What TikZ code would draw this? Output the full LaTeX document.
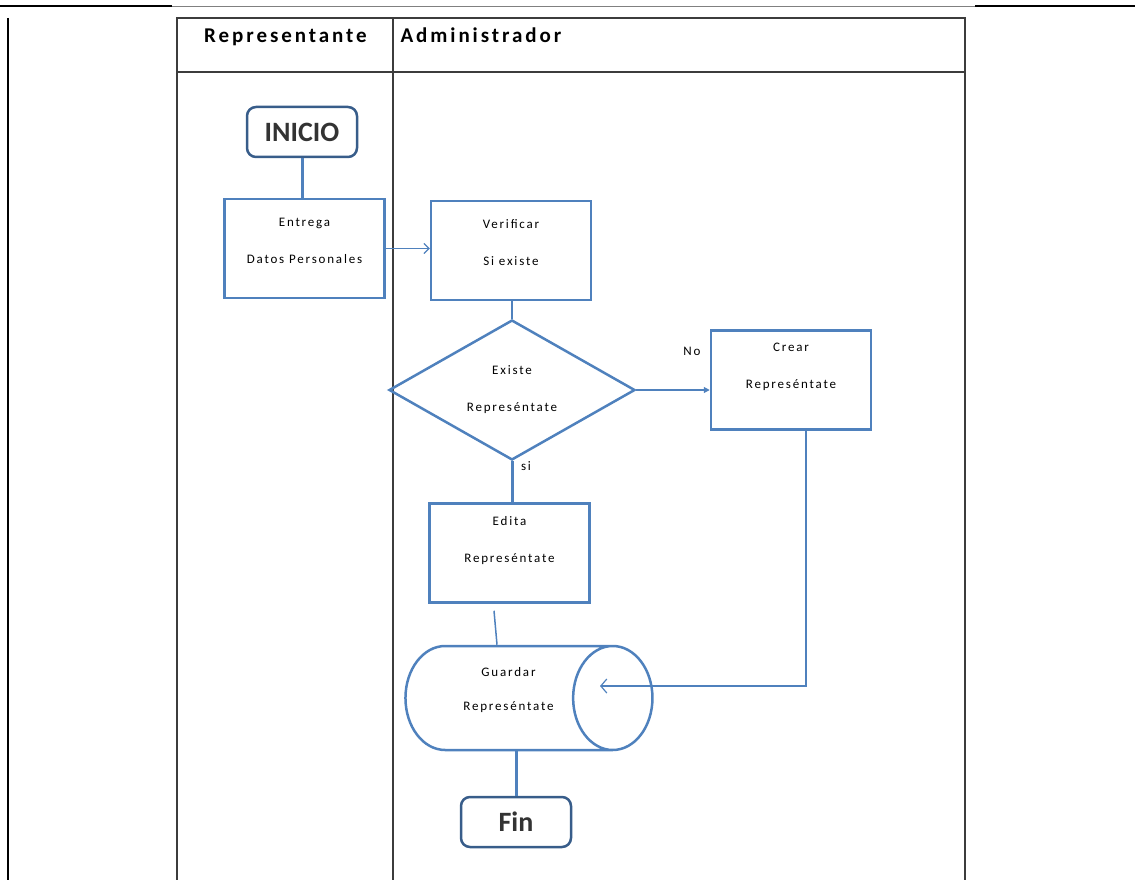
\documentclass[tikz,border=0pt]{standalone}
\usepackage{fontspec}
\setmainfont{Carlito}
\newfontfamily\cajaFont[LetterSpace=14]{Carlito}
\newfontfamily\titFont[LetterSpace=14]{Carlito}
\usetikzlibrary{shapes.geometric,arrows.meta}
\definecolor{azulCaja}{RGB}{79,129,189}
\definecolor{azulTerm}{RGB}{56,93,138}
\definecolor{grisLinea}{RGB}{60,60,60}

\begin{document}
\begin{tikzpicture}[x=1pt,y=-1pt,
  paso/.style={draw=azulCaja,line width=2.5pt,minimum width=160pt,minimum height=99pt,
    align=center,inner sep=2pt,text depth=#1,font=\cajaFont\fontsize{13}{37}\selectfont},
  paso/.default=22pt,
  term/.style={draw=azulTerm,line width=2.5pt,rounded corners=9pt,minimum width=110pt,
    minimum height=50pt,text=black!80,font=\bfseries\fontsize{28}{30}\selectfont},
  etiq/.style={font=\cajaFont\fontsize{13}{16}\selectfont},
  titulo/.style={font=\titFont\bfseries\fontsize{21}{24}\selectfont},
  grueso/.style={draw=azulCaja,line width=3pt},
  fino/.style={draw=azulCaja,line width=1.2pt}]
 \useasboundingbox (0,0) rectangle (1135,880);
 % marco de la pagina
 \draw[line width=2pt] (0,6) -- (172,6);
 \draw[gray,line width=0.8pt] (172,6) -- (975,6);
 \draw[line width=2pt] (975,6) -- (1135,6);
 \draw[line width=2pt] (8,18) -- (8,885);
 % tabla de carriles
 \draw[grisLinea,line width=1.4pt] (177,885) -- (177,18) -- (965,18) -- (965,885);
 \draw[grisLinea,line width=2pt] (177,72) -- (965,72);
 \draw[grisLinea,line width=1.4pt] (393,18) -- (393,885);
 \node[titulo] (repr) at (285.5,37) {Representante};
 \node[titulo,anchor=west] (admin) at (397,35) {Administrador};
 % nodos
 \node[term] (ini) at (302,132) {INICIO};
 \node[paso=16pt] (entrega) at (304.5,248.5) {Entrega\\Datos Personales};
 \node[paso=16pt] (verif) at (511,250.5) {Verificar\\Si existe};
 \node[draw=azulCaja,line width=2.5pt,diamond,minimum width=246pt,minimum height=140pt,
   inner sep=0pt,align=center,font=\cajaFont\fontsize{13}{37}\selectfont] (existe) at (512,390)
   {Existe\\Represéntate};
 \node[paso=28pt] (crear) at (791,380) {Crear\\Represéntate};
 \node[paso=28pt] (edita) at (509.5,553) {Edita\\Represéntate};
 \node[draw=azulCaja,line width=2.5pt,cylinder,aspect=1.3,minimum width=104pt,
   minimum height=247pt,inner sep=0pt,align=center,text depth=18pt,
   font=\cajaFont\fontsize{13}{34}\selectfont] (guardar) at (508.5,698) {Guardar\\Represéntate};
 \node[term] (fin) at (516,822) {Fin};
 \coordinate (guardarIn) at (600,686);
 \node[etiq] (no) at (692,351) {No};
 \node[etiq] (si) at (526,466) {si};
 % conectores
 \draw[grueso] (ini.south) -- (ini.south |- entrega.north);
 \draw[fino,-{Straight Barb[length=5pt,width=10pt]}] (entrega.east) -- (entrega.east -| verif.west);
 \draw[grueso,line width=2.5pt] (verif.south -| existe.north) -- (existe.north);
 \draw[fino,-{Triangle[length=6pt,width=6pt]}] (existe.east) -- (existe.east -| crear.west);
 \draw[grueso] (existe.south) -- (existe.south |- edita.north);
 \draw[fino,line width=1.5pt] ([xshift=-15.5pt,yshift=-7pt]edita.south) -- ([xshift=-11.5pt]guardar.north);
 \draw[fino,-{Straight Barb[length=6pt,width=14pt]}] ([xshift=15pt]crear.south) |- (guardarIn);
 \draw[grueso] (guardar.south -| fin.north) -- (fin.north);
\end{tikzpicture}
\end{document}
